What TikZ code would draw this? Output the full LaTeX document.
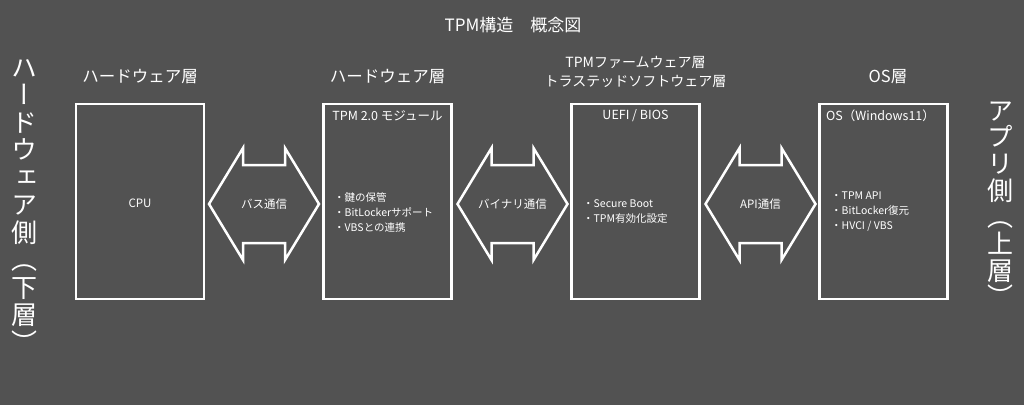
\documentclass[tikz,border=0pt]{standalone}
\usepackage{fontspec}
\setmainfont{Noto Sans CJK JP}
\newfontfamily\vjp[RawFeature=+vert]{Noto Sans CJK JP}
\definecolor{bgGray}{RGB}{82,82,82}
\tikzset{
  layerbox/.style={draw=white, line width=2.5pt, minimum width=128pt, minimum height=195pt, inner sep=0pt},
  layerlabel/.style={text=white, inner sep=0pt, font=\fontsize{16.5}{20}\selectfont},
  boxtitle/.style={text=white, inner sep=0pt, font=\fontsize{12.5}{15}\selectfont},
  itemlist/.style={text=white, inner sep=0pt, anchor=west, align=left, font=\fontsize{10.5}{15}\selectfont},
  linklabel/.style={text=white, inner sep=0pt, font=\fontsize{11.5}{14}\selectfont},
  linkarrow/.style={draw=white, line width=2.5pt},
  sidechar/.style={text=white, inner sep=0pt, anchor=base, font=\vjp\fontsize{26}{26}\selectfont}
}
\begin{document}
\begin{tikzpicture}[x=1pt,y=-1pt]
\fill[bgGray] (0,0) rectangle (1024,405);
\useasboundingbox (0,0) rectangle (1024,405);
\node[text=white, inner sep=0pt, font=\fontsize{17}{20}\selectfont] (title) at (513,25) {TPM構造　概念図};
\node[layerbox] (cpu) at (140,201.5) {};
\node[layerbox] (tpm) at (387.5,201.5) {};
\node[layerbox] (uefi) at (635.5,201.5) {};
\node[layerbox] (os) at (883.5,201.5) {};
\node[layerlabel] (cpulabel) at (140,77) {ハードウェア層};
\node[layerlabel] (tpmlabel) at (387.5,77) {ハードウェア層};
\node[layerlabel, align=center, font=\fontsize{14}{19}\selectfont] (uefilabel) at (635.5,71.5) {TPMファームウェア層\\トラステッドソフトウェア層};
\node[layerlabel] (oslabel) at (888,77) {OS層};
\node[linklabel] (cputext) at (140,203) {CPU};
\node[boxtitle] (tpmtitle) at (387.5,116) {TPM 2.0 モジュール};
\node[boxtitle] (uefititle) at (635.5,116) {UEFI / BIOS};
\node[boxtitle] (ostitle) at (880.5,116) {OS（Windows11）};
\node[itemlist] (tpmitems) at (334,212) {・鍵の保管\\・BitLockerサポート\\・VBSとの連携};
\node[itemlist] (uefiitems) at (583,211.5) {・Secure Boot\\・TPM有効化設定};
\node[itemlist] (ositems) at (831,212) {・TPM API\\・BitLocker復元\\・HVCI / VBS};
\foreach \name/\x/\txt in {bus/264/バス通信, bin/512.5/バイナリ通信, api/760.5/API通信} {
  \node[linklabel] (\name) at (\x,204) {\txt};
  \draw[linkarrow] ([xshift=-55pt]\name.center) -- ++(34,-56) -- ++(0,17) -- ++(42,0) -- ++(0,-17)
    -- ++(34,56) -- ++(-34,56) -- ++(0,-17) -- ++(-42,0) -- ++(0,17) -- cycle;
}
\foreach \ch [count=\i from 0] in {ハ,ー,ド,ウ,ェ,ア,側,︵,下,層,︶}
  \node[sidechar] (hw\i) at (25,77+27.5*\i) {\ch};
\foreach \ch [count=\i from 0] in {ア,プ,リ,側,︵,上,層,︶}
  \node[sidechar] (app\i) at (1000,120+26.7*\i) {\ch};
\end{tikzpicture}
\end{document}
